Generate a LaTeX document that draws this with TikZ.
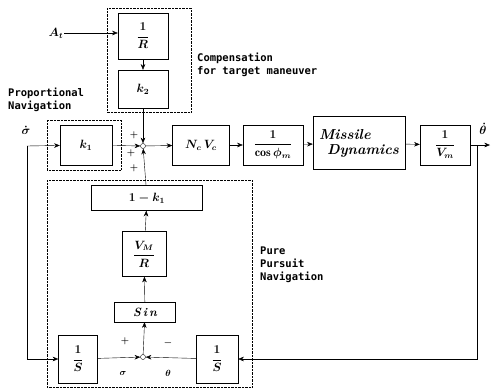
\documentclass[tikz,border=0pt]{standalone}
\usepackage{amsmath}
\usepackage{fontspec}
\usepackage{tikz}
\usetikzlibrary{arrows.meta, positioning, calc}
\newfontfamily\dotfont{DejaVu Sans Mono}
\tikzset{
	blk/.style   ={rectangle, draw=black, thin, align=center, inner sep=1pt, font=\boldmath\bfseries\itshape\large},
	region/.style={draw=black, densely dotted, thin},
	sumj/.style  ={circle, draw=black, thin, minimum size=5pt, inner sep=0pt},
	sig/.style   ={-{Stealth[length=2mm, width=1.6mm]}, thin},
	note/.style  ={font=\dotfont\bfseries\fontsize{10.5}{13}\selectfont, align=left, anchor=north west, inner sep=0pt},
	sgn/.style   ={font=\boldmath\bfseries\small, inner sep=0pt},
	rate/.style  ={font=\boldmath\large, inner sep=0pt},
}
\begin{document}
\begin{tikzpicture}[x=1pt, y=-1pt]
	\useasboundingbox (0,0) rectangle (493,389);
	% dotted groups
	\draw[region] (107,8) rectangle (191,112);
	\draw[region] (47,120) rectangle (121,170);
	\draw[region] (47,180) rectangle (252,387);
	\node[note] (lblcomp) at (197,53) {Compensation\\for target maneuver};
	\node[note] (lblprop) at (8,88) {Proportional\\Navigation};
	\node[note] (lblpure) at (260,247) {Pure\\Pursuit\\Navigation};
	% forward path
	\node[rate, inner sep=1pt] (at) at (56,33) {$A_t$};
	\node[blk, minimum width=50pt, minimum height=46pt] (invR) at (143,36) {$\dfrac{1}{R}$};
	\node[blk, minimum width=50pt, minimum height=38pt] (ktwo) at (143,89) {$k_2$};
	\node[blk, minimum width=52pt, minimum height=40pt] (kone) at (86,145) {$k_1$};
	\node[sumj] (sumup) at (143,146) {};
	\node[blk, minimum width=57pt, minimum height=40pt] (ncvc) at (201,145) {$N_c\,V_c$};
	\node[blk, minimum width=60pt, minimum height=40pt] (cosm) at (273,145) {$\dfrac{1}{\cos\phi_m}$};
	\node[blk, minimum width=92pt, minimum height=53pt, align=left, font=\bfseries\itshape\Large] (mdyn) at (359,143) {Missile\\[-3pt]\hspace*{8pt}Dynamics};
	\node[blk, minimum width=50pt, minimum height=40pt] (invvm) at (445,145) {$\dfrac{1}{V_m}$};
	\coordinate (out) at (490,145);
	\coordinate (thj) at (477,145);
	\coordinate (sdj) at (27,146);
	\node[rate] (thdot) at (483,129) {$\dot\theta$};
	\node[rate] (sdot) at (26,130) {$\dot\sigma$};
	% pure pursuit loop
	\node[blk, minimum width=111pt, minimum height=25pt] (omk) at (147,198) {$1-k_1$};
	\node[blk, minimum width=44pt, minimum height=45pt] (vmr) at (144,254) {$\dfrac{V_M}{R}$};
	\node[blk, minimum width=61pt, minimum height=20pt] (sinb) at (145,312) {S\,i\,n};
	\node[blk, minimum width=39pt, minimum height=48pt] (ints) at (78,359) {$\dfrac{1}{S}$};
	\node[blk, minimum width=42pt, minimum height=48pt] (intt) at (217,359) {$\dfrac{1}{S}$};
	\node[sumj] (sumdn) at (143,357) {};
	% signs
	\node[sgn] (p1) at (134,135) {$+$};
	\node[sgn] (p2) at (131,153) {$+$};
	\node[sgn] (p3) at (134,168) {$+$};
	\node[sgn] (p4) at (125,341) {$+$};
	\node[sgn] (m1) at (168,343) {$-$};
	\node[sgn] (sg) at (123,373) {$\sigma$};
	\node[sgn] (tg) at (168,373) {$\theta$};
	% connectors
	\draw[sig] (at) -- (invR.west |- at);
	\draw[sig] (invR) -- (ktwo);
	\draw[sig] (ktwo) -- (sumup);
	\draw[sig] (kone) -- (sumup);
	\draw[sig] (omk) -- (sumup);
	\draw[sig] (sumup) -- (ncvc);
	\draw[sig] (ncvc) -- (cosm);
	\draw[sig] (cosm) -- (mdyn);
	\draw[sig] (mdyn) -- (invvm);
	\draw[sig] (invvm) -- (out);
	\draw[sig] (thj) |- (intt.east);
	\draw[sig] (intt) -- (sumdn);
	\draw[sig] (ints) -- (sumdn);
	\draw[sig] (sumdn) -- (sinb);
	\draw[sig] (sinb) -- (vmr);
	\draw[sig] (vmr) -- (omk);
	\draw[sig] (sdj) -- (kone);
	\draw[sig] (sdj) |- (ints.west);
\end{tikzpicture}
\end{document}
